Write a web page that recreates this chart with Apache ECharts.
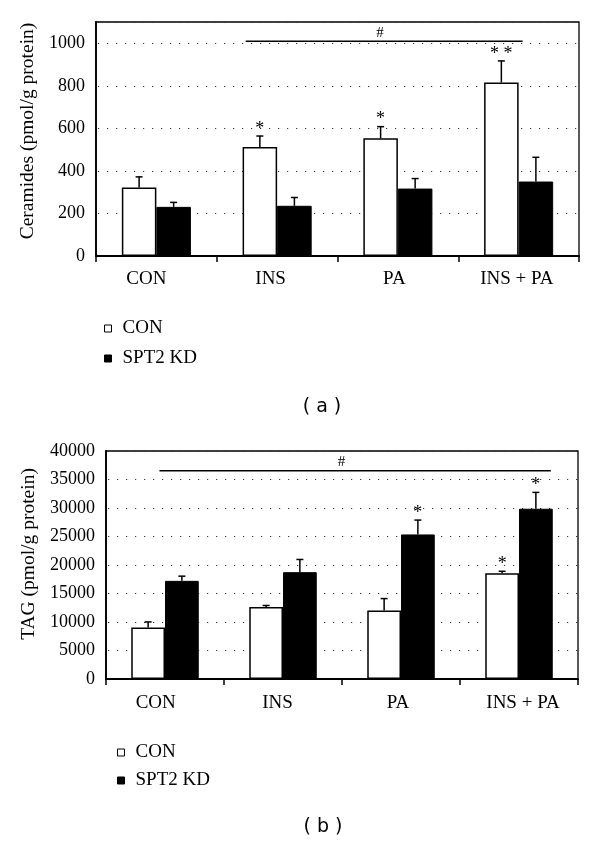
<!DOCTYPE html>
<html><head><meta charset="utf-8">
<script src="https://cdn.jsdelivr.net/npm/echarts@6/dist/echarts.min.js"></script>
<style>html,body{margin:0;padding:0;background:#fff}#c{width:600px;height:842px}</style>
</head><body><div id="c"></div>
<script>
// ---------- data ----------
const categories = ['CON', 'INS', 'PA', 'INS + PA'];
const seriesNames = ['CON', 'SPT2 KD'];

// (a) Ceramides (pmol/g protein)
const cerCon = [322, 512, 553, 816];
const cerConErr = [372, 564, 608, 917];      // upper end of error bar
const cerKd = [231, 236, 317, 350];
const cerKdErr = [252, 275, 364, 464];
const cerConStars = ['', '*', '*', '* *'];
const cerKdStars = ['', '', '', ''];
const cerTicks = [0, 200, 400, 600, 800, 1000];
const cerSig = ['INS', 'INS + PA', 1010, '#'];

// (b) TAG (pmol/g protein)
const tagCon = [9020, 12650, 12000, 18560];
const tagConErr = [10010, 12900, 14110, 18900];
const tagKd = [17220, 18740, 25360, 29870];
const tagKdErr = [18040, 20970, 27880, 32740];
const tagConStars = ['', '', '', '*'];
const tagKdStars = ['', '', '*', '*'];
const tagTicks = [0, 5000, 10000, 15000, 20000, 25000, 30000, 35000, 40000];
const tagSig = ['CON', 'INS + PA', 36540, '#'];

// ---------- styling ----------
const SERIF = '"Liberation Serif", "Times New Roman", serif';
const BAR_FRAC = 0.286;
const chart = echarts.init(document.getElementById('c'), null, {renderer: 'canvas'});

function errSeries(gi, vals, errs, stars, side) {
  return {
    type: 'custom', xAxisIndex: gi, yAxisIndex: gi, z: 10, clip: false, silent: true,
    data: vals.map((v, i) => [i, v, errs[i]]),
    renderItem: function (params, api) {
      const i = api.value(0);
      const base = api.coord([i, api.value(1)]);
      const top = api.coord([i, api.value(2)]);
      const band = api.size([1, 0])[0];
      const x = base[0] + side * band * BAR_FRAC / 2;
      const st = {stroke: '#000', lineWidth: 1.5};
      const ch = [
        {type: 'line', shape: {x1: x, y1: base[1], x2: x, y2: top[1]}, style: st},
        {type: 'line', shape: {x1: x - 3.5, y1: top[1], x2: x + 3.5, y2: top[1]}, style: st}
      ];
      const s = stars[params.dataIndex];
      if (s) ch.push({type: 'text', x: x, y: top[1] + 2,
        style: {text: s, font: '18px ' + SERIF, fill: '#000', align: 'center', verticalAlign: 'bottom'}});
      return {type: 'group', children: ch};
    }
  };
}

function sigSeries(gi, sig, f0, f1, fh) {
  return {
    type: 'custom', xAxisIndex: gi, yAxisIndex: gi, z: 10, clip: false, silent: true,
    data: [[categories.indexOf(sig[0]), categories.indexOf(sig[1]), sig[2]]],
    renderItem: function (params, api) {
      const band = api.size([1, 0])[0];
      const p0 = api.coord([api.value(0), api.value(2)]);
      const p1 = api.coord([api.value(1), api.value(2)]);
      const x0 = p0[0] + f0 * band, x1 = p1[0] + f1 * band;
      return {type: 'group', children: [
        {type: 'line', shape: {x1: x0, y1: p0[1], x2: x1, y2: p0[1]}, style: {stroke: '#000', lineWidth: 1.5}},
        {type: 'text', x: x0 + (x1 - x0) * fh, y: p0[1] - 1,
          style: {text: sig[3], font: '15px ' + SERIF, fill: '#000', align: 'center', verticalAlign: 'bottom'}}
      ]};
    }
  };
}

function barSeries(gi, name, vals, white) {
  return {
    type: 'bar', name: name, xAxisIndex: gi, yAxisIndex: gi,
    data: vals, barWidth: (BAR_FRAC * 100) + '%', barGap: '0%',
    itemStyle: white ? {color: '#fff', borderColor: '#000', borderWidth: 1.5} : {color: '#000', borderColor: '#000', borderWidth: 1},
    emphasis: {disabled: true}
  };
}

// horizontal nudges of category labels (px, negative = left), as in the original
function xAxis(gi, margin, shifts) {
  const rich = {};
  shifts.forEach((s, i) => {
    rich['c' + i] = {fontFamily: SERIF, fontSize: 19, color: '#000',
      padding: s < 0 ? [0, -2 * s, 0, 0] : [0, 0, 0, 2 * s]};
  });
  return {
    type: 'category', gridIndex: gi, data: categories,
    axisLine: {lineStyle: {color: '#000', width: 1.8}},
    axisTick: {show: true, length: 6, interval: 0, lineStyle: {color: '#000', width: 1.5}},
    axisLabel: {color: '#000', fontFamily: SERIF, fontSize: 19, margin: margin, interval: 0,
      formatter: (v, i) => '{c' + i + '|' + v + '}', rich: rich},
    splitLine: {show: false}
  };
}

function yAxis(gi, max, ticks, name, gap, shiftUp) {
  return {
    type: 'value', gridIndex: gi, min: 0, max: max, interval: ticks[1] - ticks[0],
    name: name, nameLocation: 'middle', nameGap: gap, nameRotate: 90,
    nameTextStyle: {color: '#000', fontFamily: SERIF, fontSize: 19.5, padding: [0, 0, 0, 2 * shiftUp]},
    axisLine: {show: true, lineStyle: {color: '#000', width: 1.8}},
    axisTick: {show: false},
    axisLabel: {color: '#000', fontFamily: SERIF, fontSize: 18, margin: 11,
      formatter: v => ticks.indexOf(v) >= 0 ? String(v) : ''},
    splitLine: {show: true, lineStyle: {color: '#333', width: 1.2, type: [1.2, 7.8], dashOffset: 7}}
  };
}

function legend(left, top, gap) {
  return {
    orient: 'vertical', left: left, top: top, itemGap: gap, itemWidth: 7, itemHeight: 7,
    selectedMode: false,
    textStyle: {color: '#000', fontFamily: SERIF, fontSize: 19, padding: [0, 0, 0, 6]},
    data: [
      {name: seriesNames[0], icon: 'rect', itemStyle: {color: '#fff', borderColor: '#000', borderWidth: 1}},
      {name: seriesNames[1], icon: 'rect', itemStyle: {color: '#000', borderColor: '#000', borderWidth: 1}}
    ]
  };
}

chart.setOption({
  animation: false,
  backgroundColor: '#fff',
  grid: [
    {left: 96, right: 21, top: 22, height: 234, show: true, borderColor: '#000', borderWidth: 1.3, backgroundColor: 'transparent', containLabel: false},
    {left: 106, right: 22, top: 451, height: 228, show: true, borderColor: '#000', borderWidth: 1.3, backgroundColor: 'transparent', containLabel: false}
  ],
  xAxis: [xAxis(0, 14, [-10, -6.5, -3.5, -1.8]), xAxis(1, 15, [-9.3, -5.5, -3, 4])],
  yAxis: [
    yAxis(0, 1100, cerTicks, 'Ceramides (pmol/g protein)', 56, 8),
    yAxis(1, 40000, tagTicks, 'TAG (pmol/g protein)', 66, 11)
  ],
  legend: [legend(99, 314, 11), legend(112, 738, 9)],
  series: [
    barSeries(0, seriesNames[0], cerCon, true),
    barSeries(0, seriesNames[1], cerKd, false),
    errSeries(0, cerCon, cerConErr, cerConStars, -1),
    errSeries(0, cerKd, cerKdErr, cerKdStars, 1),
    sigSeries(0, cerSig, -0.26, 0.033, 0.485),
    barSeries(1, seriesNames[0], tagCon, true),
    barSeries(1, seriesNames[1], tagKd, false),
    errSeries(1, tagCon, tagConErr, tagConStars, -1),
    errSeries(1, tagKd, tagKdErr, tagKdStars, 1),
    sigSeries(1, tagSig, -0.047, 0.27, 0.465)
  ],
  graphic: [
    {type: 'text', x: 322, y: 407, style: {text: '( a )', font: '19px "DejaVu Sans", sans-serif', fill: '#000', align: 'center', verticalAlign: 'middle'}},
    {type: 'text', x: 323, y: 827, style: {text: '( b )', font: '19px "DejaVu Sans", sans-serif', fill: '#000', align: 'center', verticalAlign: 'middle'}}
  ]
});
</script></body></html>
